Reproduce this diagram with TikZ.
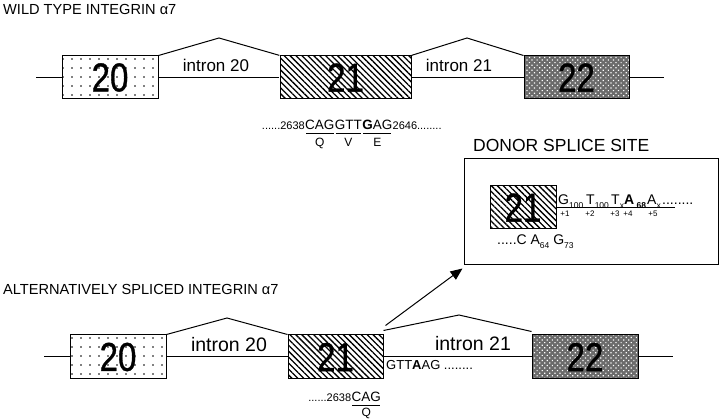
\documentclass[tikz,border=0pt]{standalone}
\usepackage{fontspec}
\setmainfont{Liberation Sans}
\newfontfamily\exfont{Liberation Sans}[FakeBold=0.9]
\usetikzlibrary{patterns.meta,arrows.meta,calc}
\newcommand\sbs[1]{\raisebox{-0.45ex}{\fontsize{8.5}{9}\selectfont #1}}
\newcommand\dg[1]{{\fontsize{11}{13}\selectfont #1}}
\newcommand\ex[1]{\scalebox{0.92}[1.12]{#1}}
\tikzset{
  ln/.style={line width=1pt},
  exon/.style={draw, line width=1pt, inner sep=0pt, minimum height=43pt,
    font=\exfont\fontsize{36}{40}\selectfont},
  dotex/.style={exon, preaction={fill=white}, pattern={Dots[distance=9pt,radius=0.9pt]}},
  hatchex/.style={exon, preaction={fill=white}, pattern={Lines[angle=-45,distance=4.2pt,line width=1.3pt]}},
  crossex/.style={exon, preaction={fill=black!58}, pattern={Dots[distance=3.6pt,angle=45,radius=0.85pt]}, pattern color=white},
  title/.style={anchor=base west, inner sep=0pt, font=\fontsize{14.6}{17}\selectfont},
  intr/.style={anchor=base, inner sep=0pt},
  seq/.style={inner sep=0pt, font=\fontsize{13.5}{15}\selectfont},
  dn/.style={inner sep=0pt, anchor=base west, font=\fontsize{14}{16}\selectfont},
  aa/.style={inner sep=0pt, anchor=base, font=\fontsize{12}{14}\selectfont},
  pl/.style={inner sep=0pt, anchor=base, font=\fontsize{8}{9}\selectfont},
  ul/.style={line width=0.8pt, shorten <=1pt, shorten >=1pt},
}
\begin{document}
\begin{tikzpicture}[x=1pt,y=-1pt]
\useasboundingbox (0,0) rectangle (720,419);

% ---------- wild type ----------
\node[title] (t1) at (3,15) {WILD TYPE INTEGRIN α7};
\coordinate (tl) at (36,77.5);
\coordinate (tr) at (664,77.5);
\coordinate (p1) at (219,38);
\coordinate (p2) at (467,38);
\node[dotex, minimum width=96pt] (a20) at (110,77.5) {\ex{20}};
\node[hatchex, minimum width=131pt] (a21) at (345.5,77.5) {\ex{21}};
\node[crossex, minimum width=105pt] (a22) at (576.5,77.5) {\ex{22}};
\draw[ln] (tl) -- (a20.west);
\draw[ln] (a20.east) -- (a21.west);
\draw[ln] (a21.east) -- (a22.west);
\draw[ln] (a22.east) -- (tr);
\draw[ln] (a20.north east) -- (p1) -- (a21.north west);
\draw[ln] (a21.north east) -- (p2) -- (a22.north west);
\node[intr, font=\fontsize{17}{19}\selectfont] (i20) at (216,72) {intron 20};
\node[intr, font=\fontsize{17}{19}\selectfont] (i21) at (459,72) {intron 21};

\node[seq, anchor=base east] (s1) at (305,130) {\dg{......2638}};
\node[seq, anchor=base west] (cag) at (s1.base east) {CAG};
\node[seq, anchor=base west] (gtt) at (cag.base east) {GTT};
\node[seq, anchor=base west] (gag) at (gtt.base east) {\textbf{G}AG};
\node[seq, anchor=base west] (s2) at (gag.base east) {\dg{2646........}};
\draw[ul] ([yshift=-3pt]cag.base west) -- ([yshift=-3pt]cag.base east);
\draw[ul] ([yshift=-3pt]gtt.base west) -- ([yshift=-3pt]gtt.base east);
\draw[ul] ([yshift=-3pt]gag.base west) -- ([yshift=-3pt]gag.base east);
\node[aa] (q1) at ([yshift=-17pt]cag.base) {Q};
\node[aa] (v1) at ([yshift=-17pt]gtt.base) {V};
\node[aa] (e1) at ([yshift=-17pt]gag.base) {E};

% ---------- donor splice site ----------
\node[anchor=base west, inner sep=0pt, font=\fontsize{17.5}{19}\selectfont] (dt) at (473,152) {DONOR SPLICE SITE};
\node[draw, ln, minimum width=254pt, minimum height=106pt, inner sep=0pt] (donor) at (591,212) {};
\node[hatchex, minimum width=66pt] (d21) at (523,207.5) {\ex{21}};
\coordinate (dend) at (675,207.5);
\draw[ln] (d21.east) -- (dend);
\node[dn] (d1) at (558,205) {G\sbs{100}};
\node[dn] (d2) at (586,205) {T\sbs{100}};
\node[dn] (d3) at (611,205) {T\sbs{x}};
\node[dn] (d4) at (624,205) {\textbf{A}\,\sbs{\textbf{68}}};
\node[dn] (d5) at (647,205) {A\sbs{x}};
\node[dn] (d6) at (662,205) {........};
\node[pl] (n1) at (565,217) {+1};
\node[pl] (n2) at (590,217) {+2};
\node[pl] (n3) at (615,217) {+3};
\node[pl] (n4) at (628,217) {+4};
\node[pl] (n5) at (653,217) {+5};
\node[dn] (dc) at (497,245) {.....C A\sbs{64} G\sbs{73}};

% ---------- alternatively spliced ----------
\node[title] (t2) at (3,295) {ALTERNATIVELY SPLICED INTEGRIN α7};
\coordinate (bl) at (44,357);
\coordinate (br) at (673,357);
\coordinate (p3) at (227,318);
\coordinate (p4) at (459,315);
\node[dotex, minimum width=96pt, minimum height=44pt] (b20) at (118,357) {\ex{20}};
\node[hatchex, minimum width=95pt, minimum height=44pt] (b21) at (335.5,357) {\ex{21}};
\node[crossex, minimum width=106pt, minimum height=44pt] (b22) at (585,357) {\ex{22}};
\draw[ln] (bl) -- (b20.west);
\draw[ln] (b20.east) -- (b21.west);
\draw[ln] (b21.east) -- (b22.west);
\draw[ln] (b22.east) -- (br);
\draw[ln] (b20.north east) -- (p3) -- (b21.north west);
\draw[ln] ($(b21.north east)+(0,-4)$) -- (p4) -- ($(b22.north west)+(0,-3)$);
\node[intr, font=\fontsize{19.5}{22}\selectfont] (j20) at (229,352) {intron 20};
\node[intr, font=\fontsize{19.5}{22}\selectfont] (j21) at (473,351) {intron 21};
\node[seq, anchor=base west, font=\fontsize{13}{15}\selectfont] (gtta) at (386,370) {GTT\textbf{A}AG ........};
\node[seq, anchor=base east] (cagb) at (381,402) {CAG};
\node[seq, anchor=base east] (s3) at (cagb.base west) {\dg{......2638}};
\draw[ul] ([yshift=-3pt]cagb.base west) -- ([yshift=-3pt]cagb.base east);
\node[aa] (q2) at ([yshift=-15pt]cagb.base) {Q};

% arrow to donor box
\coordinate (as) at ($(b21.north east)+(2,-9)$);
\coordinate (ae) at ($(donor.south west)+(-1,3)$);
\draw[ln, -{Triangle[length=12pt,width=10pt]}] (as) -- (ae);
\end{tikzpicture}
\end{document}
